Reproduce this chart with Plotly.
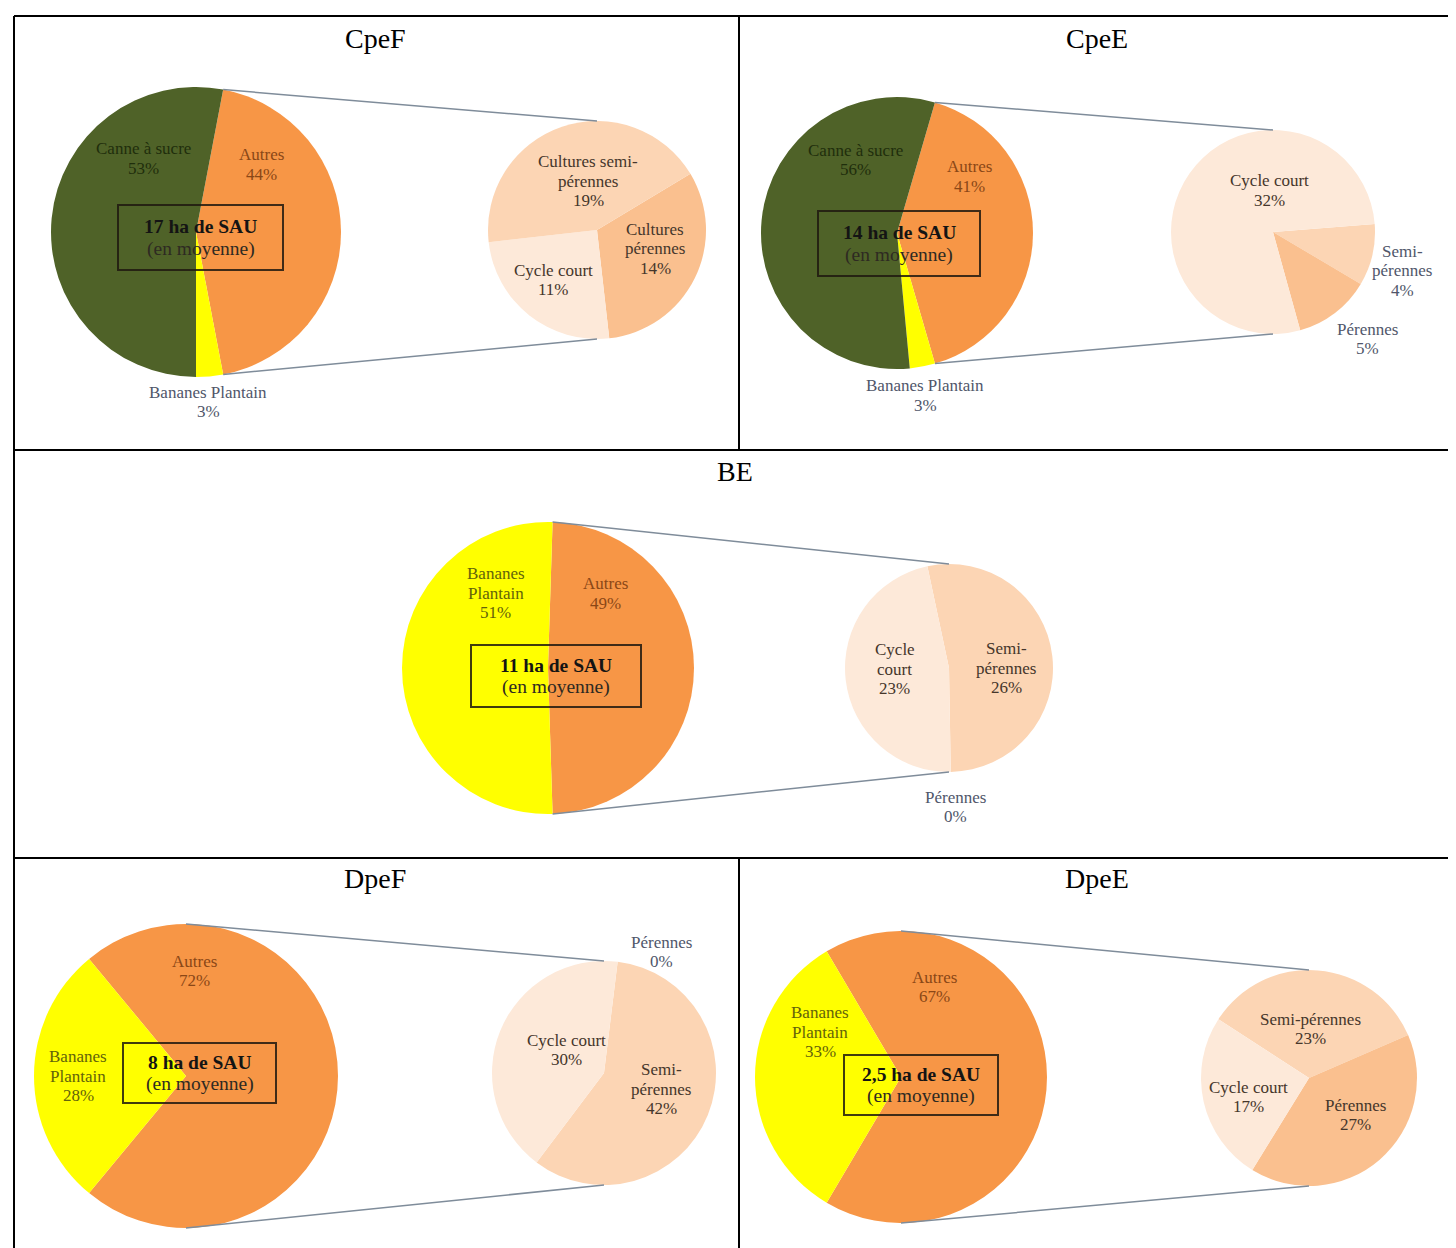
import math
import plotly.graph_objects as go

W, H = 1456, 1248

# ---------------- data ----------------
panel_names = ["CpeF", "CpeE", "BE", "DpeF", "DpeE"]
sau_ha = ["17", "14", "11", "8", "2,5"]

# main pies, listed clockwise starting with the exploded "Autres" slice
cpef_main_labels = ["Autres", "Bananes Plantain", "Canne à sucre"]
cpef_main_values = [44, 3, 53]
cpee_main_labels = ["Autres", "Bananes Plantain", "Canne à sucre"]
cpee_main_values = [41, 3, 56]
be_main_labels = ["Autres", "Bananes Plantain"]
be_main_values = [49, 51]
dpef_main_labels = ["Autres", "Bananes Plantain"]
dpef_main_values = [72, 28]
dpee_main_labels = ["Autres", "Bananes Plantain"]
dpee_main_values = [67, 33]

# secondary pies (detail of "Autres"), listed clockwise
cpef_sub_labels = ["Cultures pérennes", "Cycle court", "Cultures semi-pérennes"]
cpef_sub_values = [14, 11, 19]
cpee_sub_labels = ["Semi-pérennes", "Pérennes", "Cycle court"]
cpee_sub_values = [4, 5, 32]
be_sub_labels = ["Semi-pérennes", "Pérennes", "Cycle court"]
be_sub_values = [26, 0, 23]
dpef_sub_labels = ["Pérennes", "Semi-pérennes", "Cycle court"]
dpef_sub_values = [0, 42, 30]
dpee_sub_labels = ["Semi-pérennes", "Pérennes", "Cycle court"]
dpee_sub_values = [23, 27, 17]

main_data = {
    "CpeF": (cpef_main_labels, cpef_main_values),
    "CpeE": (cpee_main_labels, cpee_main_values),
    "BE": (be_main_labels, be_main_values),
    "DpeF": (dpef_main_labels, dpef_main_values),
    "DpeE": (dpee_main_labels, dpee_main_values),
}
sub_data = {
    "CpeF": (cpef_sub_labels, cpef_sub_values),
    "CpeE": (cpee_sub_labels, cpee_sub_values),
    "BE": (be_sub_labels, be_sub_values),
    "DpeF": (dpef_sub_labels, dpef_sub_values),
    "DpeE": (dpee_sub_labels, dpee_sub_values),
}

# ---------------- styles ----------------
SERIF = "Liberation Serif, Times New Roman, serif"
COLORS = {
    "Canne à sucre": "#4f6228",
    "Autres": "#f79646",
    "Bananes Plantain": "#ffff00",
    "Cycle court": "#fde9d9",
    "Semi-pérennes": "#fcd5b4",
    "Cultures semi-pérennes": "#fcd5b4",
    "Pérennes": "#fac08f",
    "Cultures pérennes": "#fac08f",
}
TEXT_COLORS = {
    "green": "#1f2e0c",
    "orange": "#8a4716",
    "yellow": "#63630a",
    "out": "#50566a",
    "sub": "#45362b",
}
LABEL_SIZE = 17
LABEL_LH = 19.5
BOX_SIZE = 19.5
TITLE_SIZE = 28
CONNECTOR = dict(color="#7f8c9a", width=1.5)

# layout of each panel (pixel positions / sizes)
PANELS = {
    "CpeF": dict(title=(367, 30), main=(188, 224, 145), sub=(589, 222, 109), sub_rot=59,
                 box=(192.5, 229.5, 165, 65),
                 main_text={"Canne à sucre": (135, 150.5, None, "green"),
                            "Autres": (253, 156.5, None, "orange"),
                            "Bananes Plantain": (200, 394, None, "out")},
                 sub_text={"Cultures semi-pérennes": (580, 173, "semi-", "sub"),
                           "Cultures pérennes": (647, 241, " ", "sub"),
                           "Cycle court": (545, 272, None, "sub")}),
    "CpeE": dict(title=(1089, 30), main=(889, 225, 136), sub=(1265, 224, 102), sub_rot=85.5,
                 box=(891, 235.5, 162, 65),
                 main_text={"Canne à sucre": (847, 152, None, "green"),
                            "Autres": (961, 168.5, None, "orange"),
                            "Bananes Plantain": (917, 387.5, None, "out")},
                 sub_text={"Cycle court": (1261, 182.5, None, "sub"),
                           "Semi-pérennes": (1394, 262.7, "-", "out"),
                           "Pérennes": (1359, 331, None, "out")}),
    "BE": dict(title=(727, 463), main=(540, 660, 146), sub=(941, 660, 104), sub_rot=-12,
               box=(548, 668, 170, 62),
               main_text={"Bananes Plantain": (488, 585, " ", "yellow"),
                          "Autres": (597, 585.5, None, "orange")},
               sub_text={"Cycle court": (887, 661, " ", "sub"),
                         "Semi-pérennes": (998, 660, "-", "sub"),
                         "Pérennes": (947, 799, None, "out")}),
    "DpeF": dict(title=(367, 870), main=(178, 1068, 152), sub=(596, 1065, 112), sub_rot=7,
                 box=(191.5, 1065, 153, 60),
                 main_text={"Autres": (187, 963, None, "orange"),
                            "Bananes Plantain": (70, 1068, " ", "yellow")},
                 sub_text={"Cycle court": (558, 1042, None, "sub"),
                           "Semi-pérennes": (653, 1081, "-", "sub"),
                           "Pérennes": (653, 944, None, "out")}),
    "DpeE": dict(title=(1089, 870), main=(893, 1069, 146), sub=(1301, 1070, 108), sub_rot=-57,
                 box=(913, 1077, 154, 60),
                 main_text={"Autres": (927, 979, None, "orange"),
                            "Bananes Plantain": (812, 1024, " ", "yellow")},
                 sub_text={"Semi-pérennes": (1302, 1021, None, "sub"),
                           "Pérennes": (1347, 1107, None, "sub"),
                           "Cycle court": (1240, 1089, None, "sub")}),
}

# table borders
BORDER_L, BORDER_R, BORDER_T, BORDER_B = 6, 1448, 8, 1246
ROW1, ROW2, COL_MID = 442, 850, 731

fig = go.Figure()
shapes, annotations = [], []


def px(x, y):
    return x / W, 1 - y / H


def add_text(x, y, text, size, color, bold=False):
    xx, yy = px(x, y)
    annotations.append(dict(x=xx, y=yy, xref="paper", yref="paper",
                            text=f"<b>{text}</b>" if bold else text, showarrow=False,
                            xanchor="center", yanchor="middle",
                            font=dict(family=SERIF, size=size, color=color)))


def add_line(x0, y0, x1, y1, line):
    a, b = px(x0, y0)
    c, d = px(x1, y1)
    shapes.append(dict(type="line", xref="paper", yref="paper", x0=a, y0=b, x1=c, y1=d,
                       line=line, layer="above"))


def add_pie(labels, values, geom, rotation):
    cx, cy, r = geom
    fig.add_trace(go.Pie(
        labels=labels, values=values, sort=False, direction="clockwise", rotation=rotation,
        marker=dict(colors=[COLORS[l] for l in labels], line=dict(width=0)),
        textinfo="none", hoverinfo="label+value", showlegend=False,
        domain=dict(x=[(cx - r) / W, (cx + r) / W], y=[1 - (cy + r) / H, 1 - (cy - r) / H]),
    ))


def add_label(name, value, spec):
    x, y, brk, kind = spec
    text = name.replace(brk, brk.rstrip() + "\n", 1) if brk else name
    lines = text.split("\n") + [f"{value}%"]
    n = len(lines)
    for i, ln in enumerate(lines):
        add_text(x, y + (i - (n - 1) / 2) * LABEL_LH, ln, LABEL_SIZE, TEXT_COLORS[kind])


for name, sau in zip(panel_names, sau_ha):
    cfg = PANELS[name]
    mlabels, mvalues = main_data[name]
    slabels, svalues = sub_data[name]
    total = sum(mvalues)
    autres = mvalues[mlabels.index("Autres")]
    # "Autres" slice centred at 3 o'clock
    rot = 90 - autres / total * 180
    add_pie(mlabels, mvalues, cfg["main"], rot)
    add_pie(slabels, svalues, cfg["sub"], cfg["sub_rot"])

    # connector lines from the "Autres" slice to the secondary pie
    cx, cy, r = cfg["main"]
    sx, sy, sr = cfg["sub"]
    a0 = max(rot, 0.0)
    a1 = min(rot + autres / total * 360, 180.0)
    p0 = (cx + r * math.sin(math.radians(a0)), cy - r * math.cos(math.radians(a0)))
    p1 = (cx + r * math.sin(math.radians(a1)), cy - r * math.cos(math.radians(a1)))
    add_line(p0[0], p0[1], sx, sy - sr, CONNECTOR)
    add_line(p1[0], p1[1], sx, sy + sr, CONNECTOR)

    # labels
    for lbl, val in zip(mlabels, mvalues):
        add_label(lbl, val, cfg["main_text"][lbl])
    for lbl, val in zip(slabels, svalues):
        add_label(lbl, val, cfg["sub_text"][lbl])

    # central box
    bx, by, bw, bh = cfg["box"]
    x0, y0 = px(bx - bw / 2, by - bh / 2)
    x1, y1 = px(bx + bw / 2, by + bh / 2)
    shapes.append(dict(type="rect", xref="paper", yref="paper", x0=x0, y0=y0, x1=x1, y1=y1,
                       line=dict(color="rgba(30,25,15,0.85)", width=2), fillcolor="rgba(0,0,0,0)",
                       layer="above"))
    add_text(bx, by - 11, f"{sau} ha de SAU", BOX_SIZE, "#141414", bold=True)
    add_text(bx, by + 11, "(en moyenne)", BOX_SIZE, "#2e2a22")

    # title
    tx, ty = cfg["title"]
    add_text(tx, ty, name, TITLE_SIZE, "#000000")

# table frame
BLACK = dict(color="#000000", width=2)
add_line(BORDER_L, BORDER_T, BORDER_R, BORDER_T, BLACK)
add_line(BORDER_L, BORDER_B, BORDER_R, BORDER_B, BLACK)
add_line(BORDER_L, BORDER_T, BORDER_L, BORDER_B, BLACK)
add_line(BORDER_R, BORDER_T, BORDER_R, BORDER_B, BLACK)
add_line(BORDER_L, ROW1, BORDER_R, ROW1, BLACK)
add_line(BORDER_L, ROW2, BORDER_R, ROW2, BLACK)
add_line(COL_MID, BORDER_T, COL_MID, ROW1, BLACK)
add_line(COL_MID, ROW2, COL_MID, BORDER_B, BLACK)

fig.update_layout(
    width=W, height=H, margin=dict(l=0, r=0, t=0, b=0),
    paper_bgcolor="white", plot_bgcolor="white",
    shapes=shapes, annotations=annotations, showlegend=False,
)
fig.write_html("out.html")
